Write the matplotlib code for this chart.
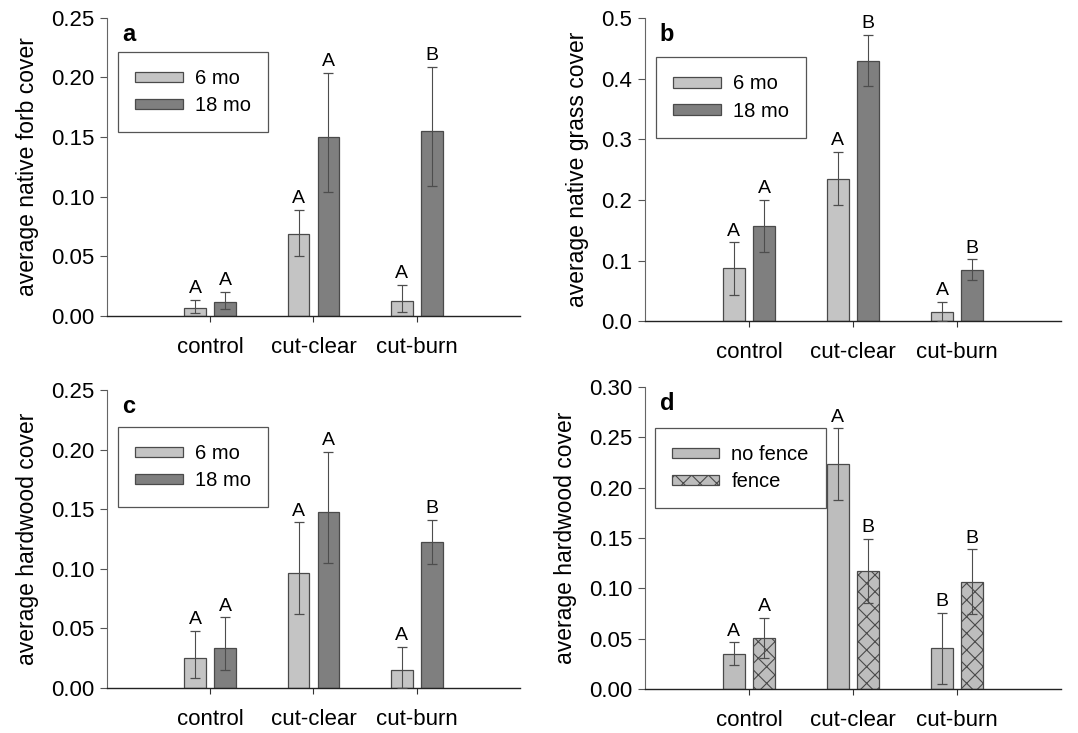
import numpy as np
import matplotlib
matplotlib.use('Agg')
from matplotlib import pyplot as plt

plt.rcParams['font.family'] = ['Liberation Sans', 'DejaVu Sans']
plt.rcParams['hatch.linewidth'] = 0.8

treatments = ['control', 'cut-clear', 'cut-burn']

# panel a - native forb cover
forb_6 = [0.0067, 0.0686, 0.0126]
forb_6_lo = [0.0022, 0.0500, 0.0036]
forb_6_hi = [0.0137, 0.0890, 0.0260]
forb_18 = [0.0117, 0.1500, 0.1550]
forb_18_lo = [0.0056, 0.1040, 0.1090]
forb_18_hi = [0.0204, 0.2040, 0.2090]
forb_6_let = ['A', 'A', 'A']
forb_18_let = ['A', 'A', 'B']

# panel b - native grass cover
grass_6 = [0.0875, 0.2350, 0.0150]
grass_6_lo = [0.0430, 0.1910, 0.0000]
grass_6_hi = [0.1300, 0.2790, 0.0320]
grass_18 = [0.1570, 0.4300, 0.0840]
grass_18_lo = [0.1140, 0.3880, 0.0670]
grass_18_hi = [0.2000, 0.4730, 0.1020]
grass_6_let = ['A', 'A', 'A']
grass_18_let = ['A', 'B', 'B']

# panel c - hardwood cover by age
hard_6 = [0.0249, 0.0968, 0.0151]
hard_6_lo = [0.0087, 0.0618, 0.0000]
hard_6_hi = [0.0480, 0.1390, 0.0347]
hard_18 = [0.0336, 0.1480, 0.1225]
hard_18_lo = [0.0148, 0.1046, 0.1037]
hard_18_hi = [0.0593, 0.1980, 0.1410]
hard_6_let = ['A', 'A', 'A']
hard_18_let = ['A', 'A', 'B']

# panel d - hardwood cover by fencing
nofence = [0.0347, 0.2237, 0.0406]
nofence_lo = [0.0235, 0.1880, 0.0050]
nofence_hi = [0.0463, 0.2590, 0.0757]
fence = [0.0506, 0.1173, 0.1060]
fence_lo = [0.0304, 0.0859, 0.0743]
fence_hi = [0.0704, 0.1490, 0.1388]
nofence_let = ['A', 'A', 'B']
fence_let = ['A', 'B', 'B']

light = '#c4c4c4'
dark = '#7f7f7f'
mid = '#bdbdbd'
edge = '#4a4a4a'

fig = plt.figure(figsize=(10.78, 7.33), dpi=100)
ax_a = fig.add_axes([0.0993, 0.569, 0.383, 0.4066])
ax_b = fig.add_axes([0.5983, 0.562, 0.386, 0.413])
ax_c = fig.add_axes([0.0993, 0.0614, 0.383, 0.4066])
ax_d = fig.add_axes([0.5983, 0.060, 0.386, 0.412])

x = np.arange(1, len(treatments) + 1)
off = 0.145
w = 0.21


def draw_panel(ax, series, ylim, yticks, fmt, ylabel, tag, leg_pos):
    for s in series:
        vals = np.array(s['v'])
        err = [vals - np.array(s['lo']), np.array(s['hi']) - vals]
        xs = x + s['dx']
        ax.bar(xs, vals, width=w, color=s['color'], edgecolor=edge,
               linewidth=0.9, hatch=s.get('hatch'), label=s['label'], zorder=2)
        ax.errorbar(xs, vals, yerr=err, fmt='none', ecolor='#4d4d4d',
                    elinewidth=0.8, capsize=3.5, capthick=0.9, zorder=3)
        for xi, hi, let in zip(xs, s['hi'], s['let']):
            ax.annotate(let, (xi, hi), xytext=(0, 2), textcoords='offset points',
                        ha='center', va='bottom', fontsize=14)
    ax.set_xlim(0, 4)
    ax.set_ylim(*ylim)
    ax.set_yticks(yticks)
    ax.set_yticklabels([fmt.format(t) for t in yticks], fontsize=16)
    ax.set_xticks(x)
    ax.set_xticklabels(treatments, fontsize=16)
    ax.tick_params(axis='x', length=4, pad=11, color='#333333')
    ax.tick_params(axis='y', length=5, pad=4, color='#555555')
    ax.set_ylabel(ylabel, fontsize=16.5, labelpad=9)
    for sp in ('top', 'right'):
        ax.spines[sp].set_visible(False)
    ax.spines['left'].set_color('#666666')
    ax.spines['left'].set_linewidth(0.8)
    ax.spines['bottom'].set_color('#222222')
    ax.spines['bottom'].set_linewidth(1.0)
    ax.text(0.036, 0.945, tag, transform=ax.transAxes, fontsize=17,
            fontweight='bold', ha='left', va='center')
    leg = ax.legend(loc='upper left', bbox_to_anchor=leg_pos, borderaxespad=0,
                    fontsize=14.5, handlelength=2.35, handleheight=0.42,
                    handletextpad=0.6, labelspacing=0.4, borderpad=0.85,
                    fancybox=False, framealpha=1)
    leg.get_frame().set_edgecolor('#555555')
    leg.get_frame().set_linewidth(0.9)


draw_panel(ax_a,
           [dict(v=forb_6, lo=forb_6_lo, hi=forb_6_hi, let=forb_6_let, dx=-off,
                 color=light, label='6 mo'),
            dict(v=forb_18, lo=forb_18_lo, hi=forb_18_hi, let=forb_18_let, dx=off,
                 color=dark, label='18 mo')],
           (0, 0.25), np.arange(0, 0.251, 0.05), '{:.2f}',
           'average native forb cover', 'a', (0.027, 0.886))

draw_panel(ax_b,
           [dict(v=grass_6, lo=grass_6_lo, hi=grass_6_hi, let=grass_6_let, dx=-off,
                 color=light, label='6 mo'),
            dict(v=grass_18, lo=grass_18_lo, hi=grass_18_hi, let=grass_18_let, dx=off,
                 color=dark, label='18 mo')],
           (0, 0.5), np.arange(0, 0.51, 0.1), '{:.1f}',
           'average native grass cover', 'b', (0.027, 0.871))

draw_panel(ax_c,
           [dict(v=hard_6, lo=hard_6_lo, hi=hard_6_hi, let=hard_6_let, dx=-off,
                 color=light, label='6 mo'),
            dict(v=hard_18, lo=hard_18_lo, hi=hard_18_hi, let=hard_18_let, dx=off,
                 color=dark, label='18 mo')],
           (0, 0.25), np.arange(0, 0.251, 0.05), '{:.2f}',
           'average hardwood cover', 'c', (0.027, 0.876))

draw_panel(ax_d,
           [dict(v=nofence, lo=nofence_lo, hi=nofence_hi, let=nofence_let, dx=-off,
                 color=mid, label='no fence'),
            dict(v=fence, lo=fence_lo, hi=fence_hi, let=fence_let, dx=off,
                 color=mid, label='fence', hatch='xx')],
           (0, 0.30), np.arange(0, 0.301, 0.05), '{:.2f}',
           'average hardwood cover', 'd', (0.024, 0.864))

plt.savefig('out.png', dpi=100)
